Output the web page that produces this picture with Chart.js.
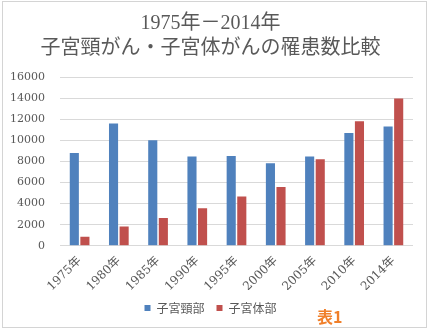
<!DOCTYPE html>
<html>
<head>
<meta charset="utf-8">
<script src="https://cdn.jsdelivr.net/npm/chart.js@4.4.0/dist/chart.umd.min.js"></script>
<style>
  body { margin: 0; background: #fff; }
  #wrap { position: relative; width: 428px; height: 328px; }
  #frame { position: absolute; left: 2px; top: 1px; width: 423px; height: 325px; border: 1px solid #d4d4d4; pointer-events: none; }
  #hyo { position: absolute; left: 317px; top: 304px; font: bold 16px 'Noto Sans CJK JP', sans-serif; color: #f07f2a; }
</style>
</head>
<body>
<div id="wrap">
  <canvas id="grafico" width="428" height="328"></canvas>
  <div id="frame"></div>
  <div id="hyo">表1</div>
</div>
<script>
var anios = ['1975年', '1980年', '1985年', '1990年', '1995年', '2000年', '2005年', '2010年', '2014年'];
var keibu = [8800, 11600, 10000, 8450, 8500, 7830, 8450, 10700, 11300];
var taibu = [850, 1820, 2620, 3550, 4670, 5560, 8200, 11800, 13950];
var titulo = ['1975年－2014年', '子宮頸がん・子宮体がんの罹患数比較'];

var gris = '#595959';
var serif = "'Liberation Serif', 'Noto Sans CJK JP', serif";

var ctx = document.getElementById('grafico');
var grafico = new Chart(ctx, {
  type: 'bar',
  data: {
    labels: anios,
    datasets: [{
      label: '子宮頸部',
      data: keibu,
      backgroundColor: '#4f81bd',
      categoryPercentage: 0.54,
      barPercentage: 0.86
    }, {
      label: '子宮体部',
      data: taibu,
      backgroundColor: '#c0504d',
      categoryPercentage: 0.54,
      barPercentage: 0.86
    }]
  },
  options: {
    responsive: false,
    animation: false,
    layout: { padding: { left: 8, right: 15, top: 0, bottom: 4 } },
    plugins: {
      title: {
        display: true,
        text: titulo,
        color: gris,
        font: { family: serif, size: 20, weight: 'normal', lineHeight: 1.25 },
        padding: { top: 11, bottom: 16 }
      },
      legend: {
        position: 'bottom',
        labels: {
          color: gris,
          boxWidth: 6,
          boxHeight: 6,
          padding: 12,
          font: { family: "'Noto Sans CJK JP', sans-serif", size: 12 }
        }
      },
      tooltip: { enabled: false }
    },
    scales: {
      x: {
        grid: { display: false },
        border: { display: false },
        ticks: {
          color: gris,
          minRotation: 45,
          maxRotation: 45,
          padding: 0,
          font: { family: "'DejaVu Serif', 'Noto Sans CJK JP', serif", size: 12 }
        },
        afterFit: function (scale) {
          scale.height = scale.height - 4;
        }
      },
      y: {
        min: 0,
        max: 16000,
        grid: { color: '#d9d9d9', drawTicks: false },
        border: { display: false },
        ticks: {
          stepSize: 2000,
          padding: 15,
          color: gris,
          font: { family: "'DejaVu Serif', serif", size: 11 },
          callback: function (value) {
            return String(value);
          }
        },
        afterFit: function (scale) {
          scale.width = 52;
        }
      }
    }
  }
});
</script>
</body>
</html>
